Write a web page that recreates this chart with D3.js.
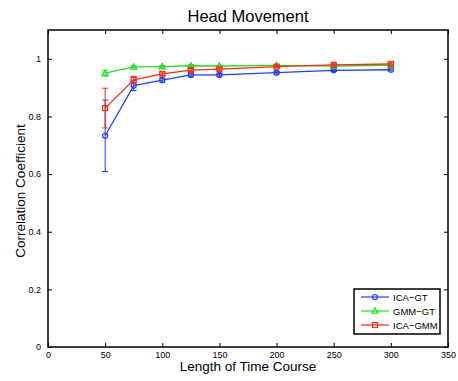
<!DOCTYPE html>
<html>
<head>
<meta charset="utf-8">
<script src="https://cdn.jsdelivr.net/npm/d3@7"></script>
<style>
body { margin: 0; background: #fff; }
text { font-family: "Liberation Sans", Arial, sans-serif; }
</style>
</head>
<body>
<div id="chart"></div>
<script>
var w = 458;
var h = 381;

// data
var lengths = [50, 75, 100, 125, 150, 200, 250, 300];
var icaGt = [0.733, 0.907, 0.926, 0.944, 0.944, 0.952, 0.960, 0.962];
var icaGtErr = [0.124, 0.017, 0.007, 0.006, 0.005, 0.005, 0.004, 0.004];
var gmmGt = [0.950, 0.972, 0.973, 0.976, 0.975, 0.977, 0.975, 0.977];
var gmmGtErr = [0.010, 0.004, 0.004, 0.004, 0.003, 0.003, 0.003, 0.003];
var icaGmm = [0.829, 0.927, 0.948, 0.961, 0.964, 0.973, 0.979, 0.982];
var icaGmmErr = [0.069, 0.012, 0.006, 0.005, 0.004, 0.004, 0.004, 0.004];
var xTicks = [0, 50, 100, 150, 200, 250, 300, 350];
var yTicks = [0, 0.2, 0.4, 0.6, 0.8, 1];

var series = [
  { name: "ICA\u2212GT", values: icaGt, err: icaGtErr, color: "#1f3fff", marker: "circle" },
  { name: "GMM\u2212GT", values: gmmGt, err: gmmGtErr, color: "#22e022", marker: "triangle" },
  { name: "ICA\u2212GMM", values: icaGmm, err: icaGmmErr, color: "#ff2a10", marker: "square" }
];

var plotLeft = 48, plotRight = 448, plotTop = 30, plotBottom = 347;

var x = d3.scaleLinear().domain([0, 350]).range([plotLeft, plotRight]);
var y = d3.scaleLinear().domain([0, 1.1]).range([plotBottom, plotTop]);

var svg = d3.select("#chart")
  .append("svg")
  .attr("width", w)
  .attr("height", h)
  .style("background", "#ffffff");

// ticks pointing inward, on all four sides
var tickLen = 4;
svg.append("g")
  .attr("transform", "translate(0," + plotBottom + ")")
  .call(d3.axisBottom(x).tickValues(xTicks).tickSize(-tickLen).tickPadding(5).tickFormat(d3.format("d")))
  .call(function(g) { g.select(".domain").remove(); })
  .selectAll("text").attr("font-size", 9).attr("fill", "#000");

svg.append("g")
  .attr("transform", "translate(0," + plotTop + ")")
  .call(d3.axisTop(x).tickValues(xTicks).tickSize(-tickLen).tickFormat(""))
  .call(function(g) { g.select(".domain").remove(); });

svg.append("g")
  .attr("transform", "translate(" + plotLeft + ",0)")
  .call(d3.axisLeft(y).tickValues(yTicks).tickSize(-tickLen).tickPadding(7).tickFormat(function(d) { return d3.format("~g")(d); }))
  .call(function(g) { g.select(".domain").remove(); })
  .selectAll("text").attr("font-size", 9).attr("fill", "#000");

svg.append("g")
  .attr("transform", "translate(" + plotRight + ",0)")
  .call(d3.axisRight(y).tickValues(yTicks).tickSize(-tickLen).tickFormat(""))
  .call(function(g) { g.select(".domain").remove(); });

svg.append("rect")
  .attr("x", plotLeft)
  .attr("y", plotTop)
  .attr("width", plotRight - plotLeft)
  .attr("height", plotBottom - plotTop)
  .attr("fill", "none")
  .attr("stroke", "#000")
  .attr("stroke-width", 1.5);

var line = d3.line()
  .x(function(d, i) { return x(lengths[i]); })
  .y(function(d) { return y(d); });

function drawMarker(g, type, cx, cy, color) {
  if (type === "circle") {
    g.append("circle").attr("cx", cx).attr("cy", cy).attr("r", 2.5)
      .attr("fill", "none").attr("stroke", color).attr("stroke-width", 1.2);
  } else if (type === "triangle") {
    g.append("path")
      .attr("d", "M" + cx + "," + (cy - 3.2) + "L" + (cx + 3) + "," + (cy + 2.2) + "L" + (cx - 3) + "," + (cy + 2.2) + "Z")
      .attr("fill", "none").attr("stroke", color).attr("stroke-width", 1.2);
  } else {
    g.append("rect").attr("x", cx - 2.5).attr("y", cy - 2.5).attr("width", 5).attr("height", 5)
      .attr("fill", "none").attr("stroke", color).attr("stroke-width", 1.2);
  }
}

series.forEach(function(s) {
  var g = svg.append("g");
  // error bars
  s.values.forEach(function(v, i) {
    var cx = x(lengths[i]);
    var y1 = y(v + s.err[i]), y2 = y(v - s.err[i]);
    g.append("line").attr("x1", cx).attr("x2", cx).attr("y1", y1).attr("y2", y2)
      .attr("stroke", s.color).attr("stroke-width", 1);
    g.append("line").attr("x1", cx - 3).attr("x2", cx + 3).attr("y1", y1).attr("y2", y1)
      .attr("stroke", s.color).attr("stroke-width", 1);
    g.append("line").attr("x1", cx - 3).attr("x2", cx + 3).attr("y1", y2).attr("y2", y2)
      .attr("stroke", s.color).attr("stroke-width", 1);
  });
  g.append("path")
    .datum(s.values)
    .attr("d", line)
    .attr("fill", "none")
    .attr("stroke", s.color)
    .attr("stroke-width", 1.3);
  s.values.forEach(function(v, i) {
    drawMarker(g, s.marker, x(lengths[i]), y(v), s.color);
  });
});

// title and axis labels
svg.append("text")
  .attr("x", (plotLeft + plotRight) / 2)
  .attr("y", 22)
  .attr("text-anchor", "middle")
  .attr("font-size", 16.5)
  .attr("fill", "#000")
  .text("Head Movement");

svg.append("text")
  .attr("x", (plotLeft + plotRight) / 2)
  .attr("y", 371)
  .attr("text-anchor", "middle")
  .attr("font-size", 13.5)
  .attr("fill", "#000")
  .text("Length of Time Course");

svg.append("text")
  .attr("transform", "translate(25,191) rotate(-90)")
  .attr("text-anchor", "middle")
  .attr("font-size", 13.5)
  .attr("fill", "#000")
  .text("Correlation Coefficient");

// legend
var legend = svg.append("g");
legend.append("rect")
  .attr("x", 354)
  .attr("y", 289)
  .attr("width", 86)
  .attr("height", 45)
  .attr("fill", "#fff")
  .attr("stroke", "#000")
  .attr("stroke-width", 1.5);

series.forEach(function(s, i) {
  var ly = 297 + i * 14;
  legend.append("line")
    .attr("x1", 361).attr("x2", 389).attr("y1", ly).attr("y2", ly)
    .attr("stroke", s.color).attr("stroke-width", 1.2);
  drawMarker(legend, s.marker, 375, ly, s.color);
  legend.append("text")
    .attr("x", 393)
    .attr("y", ly + 3.5)
    .attr("font-size", 9.5)
    .attr("fill", "#000")
    .text(s.name);
});
</script>
</body>
</html>
